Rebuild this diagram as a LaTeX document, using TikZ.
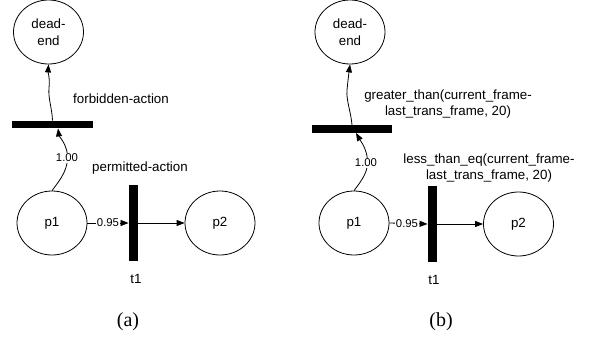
\documentclass[tikz,border=0pt]{standalone}
\usepackage{fontspec}
\setmainfont{Liberation Serif}
\setsansfont{Liberation Sans}
\usetikzlibrary{shapes.geometric,arrows.meta,calc}

\begin{document}
\begin{tikzpicture}[x=0.75pt,y=0.75pt,yscale=-1,xscale=1,
  place/.style={draw,ellipse,line width=0.6pt,inner sep=0pt,minimum width=52.5pt,minimum height=48pt,align=center,font=\sffamily\fontsize{10pt}{13pt}\selectfont},
  hbar/.style={fill=black,inner sep=0pt,minimum width=60.5pt,minimum height=5.5pt},
  vbar/.style={fill=black,inner sep=0pt,minimum width=7pt,minimum height=57pt},
  lbl/.style={align=center,font=\sffamily\fontsize{10pt}{11.5pt}\selectfont},
  wgt/.style={fill=white,inner sep=0.6pt,font=\sffamily\fontsize{8.5pt}{10pt}\selectfont},
  captxt/.style={font=\fontsize{15pt}{18pt}\selectfont},
  netarc/.style={line width=0.6pt,-{Triangle[length=6pt,width=4.5pt]}}]
\useasboundingbox (0,0) rectangle (594,358);

%%% (a)
%Shape: Circle [id:dead-end a]
\node [place] (dA) at (48.5,32) {dead-\\end};
%Shape: Circle [id:p1 a]
\node [place] (p1A) at (52,223) {p1};
%Shape: Circle [id:p2 a]
\node [place] (p2A) at (220,223) {p2};
%Shape: Rectangle [id:forbidden bar]
\node [hbar] (fbA) at (52.5,124.5) {};
%Shape: Rectangle [id:t1 bar a]
\node [vbar] (t1A) at (133.5,223) {};

%Curve Lines
\draw [netarc] (p1A.north) .. controls (60,180) and (70,168) .. (67,152) .. controls (65,142) and (59,136) .. ($(fbA.south)+(5.5,0)$) ;
%Curve Lines
\draw [netarc] (fbA.north) .. controls (52,108) and (48,98) .. (49,88) .. controls (50,78) and (48,72) .. (dA.south) ;
%Straight Lines
\draw [netarc] (p1A.east) -- (t1A.west) ;
%Straight Lines
\draw [netarc] (t1A.east) -- (p2A.west) ;

% Text Node
\node [wgt] (w1A) at (67,158) {1.00};
% Text Node
\node [wgt] (w2A) at (108,223) {0.95};
% Text Node
\node [lbl] (lfA) at (121,99) {forbidden-action};
% Text Node
\node [lbl] (lpA) at (140,168) {permitted-action};
% Text Node
\node [lbl] (ltA) at (136,279) {t1};
% Text Node
\node [captxt] (capA) at (128,322) {(a)};

%%% (b)
%Shape: Circle [id:dead-end b]
\node [place] (dB) at (350,32) {dead-\\end};
%Shape: Circle [id:p1 b]
\node [place] (p1B) at (354,223) {p1};
%Shape: Circle [id:p2 b]
\node [place] (p2B) at (518.5,224) {p2};
%Shape: Rectangle [id:greater bar]
\node [hbar] (fbB) at (352,129) {};
%Shape: Rectangle [id:t1 bar b]
\node [vbar] (t1B) at (432.5,224) {};

%Curve Lines
\draw [netarc] (p1B.north) .. controls (362,180) and (370,170) .. (367,156) .. controls (365,146) and (360,140) .. ($(fbB.south)+(4,0)$) ;
%Curve Lines
\draw [netarc] (fbB.north) .. controls (351,112) and (346,100) .. (347,90) .. controls (348,80) and (349,72) .. (dB.south) ;
%Straight Lines
\draw [netarc] (p1B.east) -- (t1B.west) ;
%Straight Lines
\draw [netarc] (t1B.east) -- (p2B.west) ;

% Text Node
\node [wgt] (w1B) at (366,163) {1.00};
% Text Node
\node [wgt] (w2B) at (407,224) {0.95};
% Text Node
\node [lbl] (lgB) at (448,104) {greater\_than(current\_frame-\\last\_trans\_frame, 20)};
% Text Node
\node [lbl] (llB) at (489,168) {less\_than\_eq(current\_frame-\\last\_trans\_frame, 20)};
% Text Node
\node [lbl] (ltB) at (434,280) {t1};
% Text Node
\node [captxt] (capB) at (441,322) {(b)};
\end{tikzpicture}
\end{document}
